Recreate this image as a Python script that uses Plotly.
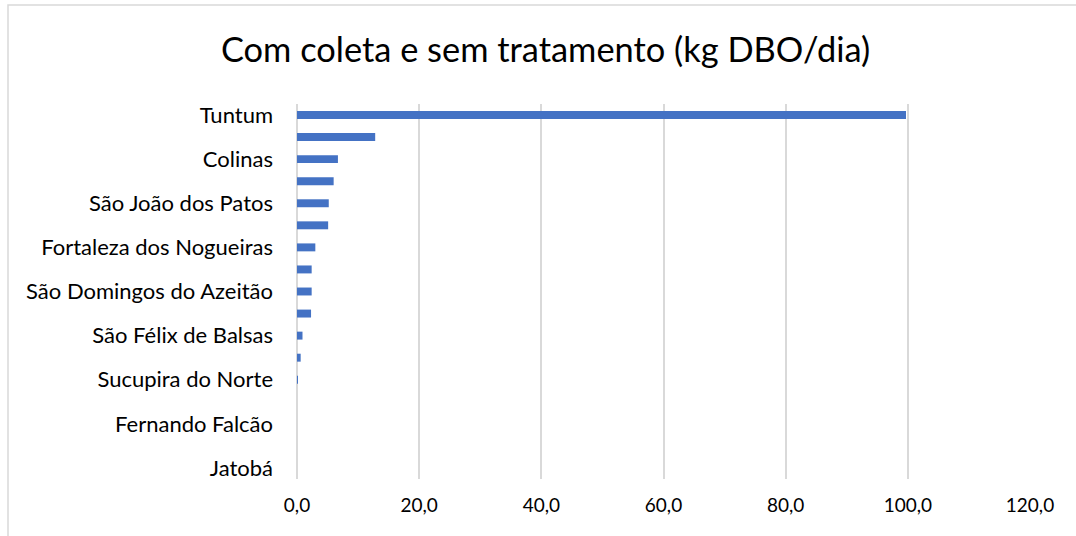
import plotly.graph_objects as go

# municipalities, top to bottom (only every other name is shown on the axis)
municipios = [
    "Tuntum", "Paraibano", "Colinas", "Pastos Bons", "São João dos Patos",
    "Mirador", "Fortaleza dos Nogueiras", "Nova Iorque", "São Domingos do Azeitão",
    "Benedito Leite", "São Félix de Balsas", "Loreto", "Sucupira do Norte",
    "Lagoa do Mato", "Fernando Falcão", "Sucupira do Riachão", "Jatobá",
]
carga_dbo = [99.7, 12.8, 6.7, 6.0, 5.2, 5.1, 3.0, 2.4, 2.4, 2.3, 0.9, 0.6, 0.1, 0.0, 0.0, 0.0, 0.0]
rotulos_visiveis = municipios[::2]
ticks_x = [0, 20, 40, 60, 80, 100, 120]

W, H = 1076, 536
ml, mr, mt, mb = 297, 46, 104, 57

fig = go.Figure()
fig.add_trace(go.Bar(
    y=municipios,
    x=carga_dbo,
    orientation="h",
    marker=dict(color="#4472C4", line=dict(width=0)),
))

fig.update_layout(
    width=W, height=H,
    margin=dict(l=ml, r=mr, t=mt, b=mb, pad=0),
    paper_bgcolor="white",
    plot_bgcolor="white",
    showlegend=False,
    bargap=0.64,
    font=dict(family="Lato", color="#000000"),
    title=dict(
        text="Com coleta e sem tratamento (kg DBO/dia)",
        x=0.507, xanchor="center", xref="container",
        y=1 - 50 / H, yanchor="middle",
        font=dict(size=34.4, color="#000000"),
    ),
    xaxis=dict(
        range=[0, 120],
        tickvals=ticks_x,
        ticktext=[f"{v},0" for v in ticks_x],
        showgrid=True, gridcolor="#d9d9d9", gridwidth=1.5,
        zeroline=True, zerolinecolor="#d9d9d9", zerolinewidth=1.5,
        showline=False, ticks="",
        tickfont=dict(size=19),
        ticklabelstandoff=13,
    ),
    yaxis=dict(
        autorange="reversed",
        tickvals=rotulos_visiveis,
        showgrid=False, zeroline=False, showline=False,
        ticks="", ticklen=0,
        tickfont=dict(size=22),
        ticklabelstandoff=23,
    ),
    shapes=[dict(
        type="rect", xref="paper", yref="paper",
        x0=(8 - ml) / (W - ml - mr), x1=(W + 10 - ml) / (W - ml - mr),
        y0=-(mb + 10) / (H - mt - mb), y1=1 + (mt - 5) / (H - mt - mb),
        line=dict(color="#d9d9d9", width=1.5), fillcolor="rgba(0,0,0,0)",
        layer="below",
    )],
)

fig.write_html(
    "out.html",
    config={"displayModeBar": False},
    post_script="document.body.style.margin='0px';",
)
